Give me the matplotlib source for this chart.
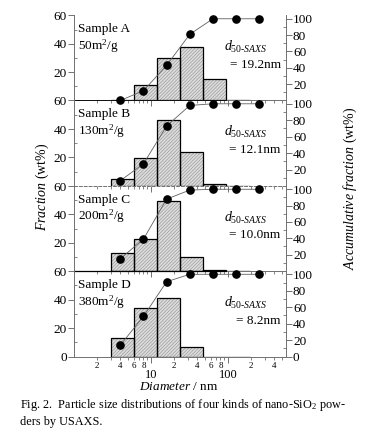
import matplotlib
matplotlib.use("Agg")
import matplotlib.pyplot as plt
from matplotlib.ticker import FixedLocator, NullFormatter, FixedFormatter
import numpy as np

plt.rcParams['font.family'] = ['Liberation Serif', 'DejaVu Serif']
plt.rcParams['mathtext.fontset'] = 'custom'
plt.rcParams['mathtext.rm'] = 'Liberation Serif'
plt.rcParams['mathtext.it'] = 'Liberation Serif:italic'
plt.rcParams['mathtext.bf'] = 'Liberation Serif:bold'
plt.rcParams['hatch.linewidth'] = 0.4

# ---- data ----
bin_edges = [3, 6, 12, 24, 48, 96, 192]
cum_x = [4, 8, 16, 32, 64, 128, 256]
samples = ["Sample A", "Sample B", "Sample C", "Sample D"]
areas = ["50m$^2$/g", "130m$^2$/g", "200m$^2$/g", "380m$^2$/g"]
d50 = ["= 19.2nm", "= 12.1nm", "= 10.0nm", "= 8.2nm"]
frac_A = [0, 11.2, 29.7, 37.5, 15.4, 0.5]
frac_B = [5.2, 19.4, 46.0, 24.0, 1.7, 0]
frac_C = [13.0, 22.9, 49.5, 9.8, 0.7, 0]
frac_D = [12.9, 33.8, 41.0, 7.0, 0, 0]
cum_A = [0, 12, 43, 81, 100, 100, 100]
cum_B = [6.5, 27, 73, 98, 100, 100, 100]
cum_C = [15, 39, 88, 99, 100, 100, 100]
cum_D = [14, 49, 91, 100, 100, 100, 100]
fracs = [frac_A, frac_B, frac_C, frac_D]
cums = [cum_A, cum_B, cum_C, cum_D]
major_x = [10, 100]
minor_x_labels = {2: "2", 4: "4", 6: "6", 8: "8", 20: "2", 40: "4", 60: "6", 80: "8", 200: "2", 400: "4"}

W, H = 366, 440
fig = plt.figure(figsize=(W / 100, H / 100), dpi=100)

left_px, right_px = 74, 286
tops = [15.5, 100.5, 186.0, 271.0, 356.7]
gray = "#707070"

lefts = np.array(bin_edges[:-1])
widths = np.diff(bin_edges)
minor_ticks = [m * 10 ** e for e in range(0, 3) for m in range(2, 10)]
minor_ticks = [t for t in minor_ticks if t < 570]

for i in range(4):
    y0 = 1 - tops[i + 1] / H
    h = (tops[i + 1] - tops[i]) / H
    ax = fig.add_axes([left_px / W, y0, (right_px - left_px) / W, h])
    ax.set_xscale("log")
    ax.set_xlim(1, 570)
    ax.set_ylim(0, 60)
    ax.patch.set_alpha(0)

    # bars: hatch layer + outline layer
    ax.bar(lefts, fracs[i], width=widths, align="edge", color="#dcdcdc",
           edgecolor="#909090", hatch="//////////", linewidth=0, zorder=2)
    ax.bar(lefts, fracs[i], width=widths, align="edge", fill=False,
           edgecolor="black", linewidth=0.9, zorder=3)

    ax.spines["top"].set_visible(False)
    ax.spines["left"].set_color(gray)
    ax.spines["left"].set_linewidth(0.7)
    ax.spines["right"].set_visible(False)
    ax.spines["bottom"].set_color(gray)
    ax.spines["bottom"].set_linewidth(0.7)
    if i == 1:
        ax.spines["bottom"].set_linestyle((0, (3, 2)))
    if i in (0, 2):
        ax.plot([1, 96], [0, 0], color="black", lw=0.9 if i == 2 else 0.6,
                clip_on=False, zorder=4)

    ax.yaxis.set_major_locator(FixedLocator([0, 20, 40, 60] if i == 3 else [20, 40, 60]))
    ax.yaxis.set_minor_locator(FixedLocator([10, 30, 50]))
    ax.tick_params(axis="y", which="major", direction="out", length=4, width=0.7,
                   color=gray, labelsize=9.5, pad=1)
    ax.tick_params(axis="y", which="minor", direction="in", length=2.5, width=0.6, color=gray)

    ax.xaxis.set_major_locator(FixedLocator(major_x))
    ax.xaxis.set_minor_locator(FixedLocator(minor_ticks))
    ax.tick_params(axis="x", which="major", direction="out", length=4, width=0.7, color=gray)
    ax.tick_params(axis="x", which="minor", direction="out", length=2.5, width=0.6, color=gray)
    if i == 3:
        ax.xaxis.set_major_formatter(FixedFormatter(["10", "100"]))
        ax.xaxis.set_minor_formatter(FixedFormatter([minor_x_labels.get(t, "") for t in minor_ticks]))
        ax.tick_params(axis="x", which="major", labelsize=9, pad=4.5)
        ax.tick_params(axis="x", which="minor", labelsize=6.5, pad=1.2)
    else:
        ax.xaxis.set_major_formatter(NullFormatter())
        ax.xaxis.set_minor_formatter(NullFormatter())

    ax2 = ax.twinx()
    ax2.set_ylim(0, 104)
    ax2.plot(cum_x, cums[i], color="#606060", lw=0.6, zorder=3, clip_on=False)
    ax2.plot(cum_x, cums[i], "o", color="black", ms=5.2, zorder=4, clip_on=False)
    for s in ["top", "left", "bottom"]:
        ax2.spines[s].set_visible(False)
    ax2.spines["right"].set_color(gray)
    ax2.spines["right"].set_linewidth(0.7)
    ax2.yaxis.set_major_locator(FixedLocator([0, 20, 40, 60, 80, 100] if i == 3 else [20, 40, 60, 80, 100]))
    ax2.yaxis.set_minor_locator(FixedLocator([10, 30, 50, 70, 90]))
    ax2.tick_params(axis="y", which="major", direction="out", length=4, width=0.7,
                    color=gray, labelsize=9.5, pad=1)
    ax2.tick_params(axis="y", which="minor", direction="in", length=2, width=0.6, color=gray)

    ax.text(0.02, 0.84, samples[i], transform=ax.transAxes, fontsize=9.5, ha="left", va="center")
    ax.text(0.02, 0.64, areas[i], transform=ax.transAxes, fontsize=9.5, ha="left", va="center")
    ax.text(0.81, 0.63, r"$d_{50\text{-}SAXS}$", transform=ax.transAxes, fontsize=10,
            ha="center", va="center")
    ax.text(0.975, 0.42, d50[i], transform=ax.transAxes, fontsize=9.5, ha="right", va="center")

fig.text(42 / W, 1 - 187 / H, r"$\mathit{Fraction}$ (wt%)", rotation=90, fontsize=10,
         ha="center", va="center")
fig.text(350 / W, 1 - 188 / H, r"$\mathit{Accumulative\ fraction}$ (wt%)", rotation=90,
         fontsize=10, ha="center", va="center")
fig.text(179 / W, 1 - 387 / H, r"$\mathit{Diameter}$ / nm", fontsize=9.5, ha="center", va="center")

fig.text(20 / W, 1 - 405 / H, "Fig. 2.  Particle size distributions of four kinds of nano-SiO$_2$ pow-",
         fontsize=8.8, ha="left", va="center")
fig.text(20 / W, 1 - 422 / H, "ders by USAXS.", fontsize=8.8, ha="left", va="center")

fig.savefig("out.png", dpi=100)
